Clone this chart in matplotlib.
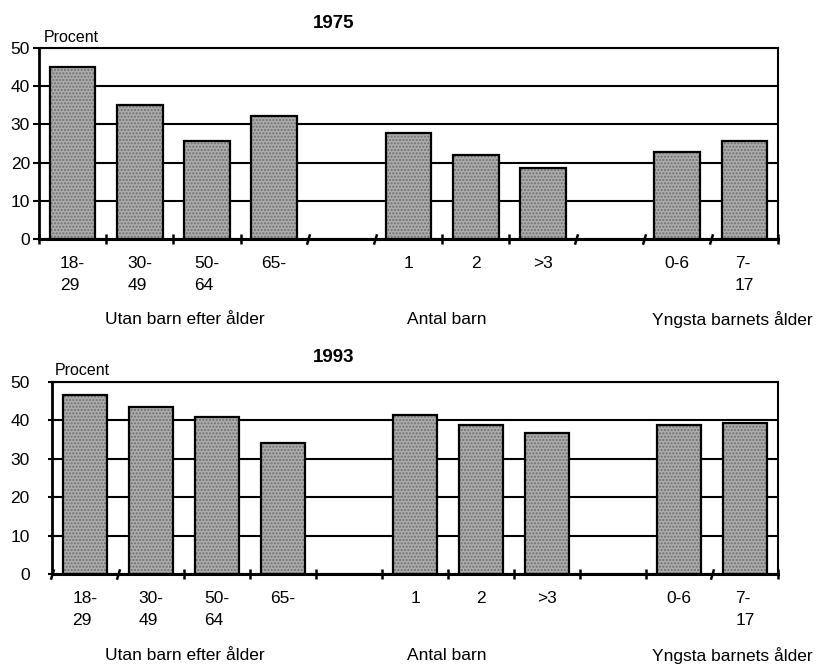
import numpy as np
import matplotlib
matplotlib.use("Agg")
import matplotlib.pyplot as plt

plt.rcParams['font.family'] = ['Liberation Sans', 'DejaVu Sans']

# Data (percent)
labels = ['18-\n29', '30-\n49', '50-\n64', '65-', '1', '2', '>3', '0-6', '7-\n17']
slots = [0, 1, 2, 3, 5, 6, 7, 9, 10]   # slots 4 and 8 are empty gaps between groups
v1975 = [45.0, 35.0, 25.6, 32.2, 27.7, 22.1, 18.5, 22.7, 25.6]
v1993 = [46.5, 43.6, 40.9, 34.0, 41.5, 38.7, 36.7, 38.7, 39.3]
groups = ['Utan barn efter ålder', 'Antal barn', 'Yngsta barnets ålder']
yticks = [0, 10, 20, 30, 40, 50]

W, H = 817, 664
fig = plt.figure(figsize=(W / 100, H / 100), dpi=100)


def panel(rect, values, slanted, ypad, ylen, ydir):
    ax = fig.add_axes(rect)
    # stipple fill, then black outline
    ax.bar(slots, values, width=0.68, color='#acacac', edgecolor='#6e6e6e',
           hatch='.....', linewidth=0, zorder=2)
    ax.bar(slots, values, width=0.68, fill=False, edgecolor='black',
           linewidth=1.6, zorder=3)
    ax.set_xlim(-0.5, 10.5)
    ax.set_ylim(0, 50)
    ax.set_yticks(yticks)
    ax.yaxis.grid(True, color='black', linewidth=1.5)
    ax.set_axisbelow(True)
    for s in ax.spines.values():
        s.set_linewidth(1.5)
    ax.spines['left'].set_linewidth(2)
    ax.spines['bottom'].set_linewidth(2.2)
    ax.set_xticks(slots)
    ax.set_xticklabels(labels, fontsize=12.5, multialignment='left', linespacing=1.6)
    ax.tick_params(axis='x', length=0, pad=12)
    ax.tick_params(axis='y', labelsize=12.5, direction=ydir, length=ylen,
                   width=1.5, pad=ypad)
    # category boundary ticks, some drawn as break marks
    for b in range(12):
        mk = [(-0.3, -1), (0.3, 1)] if b in slanted else '|'
        ax.plot([b - 0.5], [0], linestyle='none', marker=mk, markersize=7.5,
                markeredgewidth=1.8, color='black', clip_on=False, zorder=5)
    return ax


ax1 = panel([39 / W, 1 - 239 / H, 739 / W, 191 / H], v1975,
            [4, 5, 8, 9, 10], 2.5, 4, 'out')
ax2 = panel([52 / W, 1 - 574 / H, 726 / W, 192 / H], v1993,
            [0, 1, 10], 13, 6, 'inout')

fig.text(334 / W, 1 - 23 / H, '1975', fontsize=13.5, fontweight='bold',
         ha='center', va='center')
fig.text(334 / W, 1 - 357 / H, '1993', fontsize=13.5, fontweight='bold',
         ha='center', va='center')
fig.text(44 / W, 1 - 37 / H, 'Procent', fontsize=11.5, ha='left', va='center')
fig.text(55 / W, 1 - 371 / H, 'Procent', fontsize=11.5, ha='left', va='center')

for yc in (320, 656):
    fig.text(185 / W, 1 - yc / H, groups[0], fontsize=12.5, ha='center', va='center')
    fig.text(447 / W, 1 - yc / H, groups[1], fontsize=12.5, ha='center', va='center')
    fig.text(732 / W, 1 - yc / H, groups[2], fontsize=12.5, ha='center', va='center')

fig.savefig('out.png', dpi=100)
